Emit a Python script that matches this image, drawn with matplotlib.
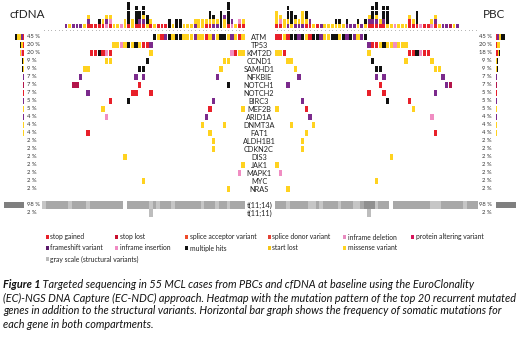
import matplotlib.pyplot as plt

plt.rcParams["font.family"] = ["Lato", "DejaVu Sans"]

# =============================================================================
# Data
# =============================================================================
GENES = ["ATM", "TP53", "KMT2D", "CCND1", "SAMHD1", "NFKBIE", "NOTCH1", "NOTCH2",
         "BIRC3", "MEF2B", "ARID1A", "DNMT3A", "FAT1", "ALDH1B1", "CDKN2C", "DIS3",
         "JAK1", "MAPK1", "MYC", "NRAS"]
SV_LABELS = ["t(11;14)", "t(11;11)"]
N_CASES = 55

# cell codes: Y missense, R stop gained, P frameshift, K multiple hits,
# I inframe indel, C protein altering ; "start:codes" runs per gene
CFDNA_MUT = [
    "30:KYRPKYKKYYYPYYRYPYKKYPYRY",
    "19:YYIYKYKYRRP",
    "13:RRKRIR 29:Y 51:IRYY",
    "17:YY 28:K 49:YY",
    "11:YY 26:KK 48:Y",
    "10:P 25:P 27:P 47:P",
    "8:CC 26:R 50:K",
    "12:P 24:RR 29:R",
    "18:R 23:K 46:P",
    "16:Y 45:R 54:Y",
    "17:I 44:P",
    "43:Y 49:Y",
    "12:R 45:Y",
    "46:Y",
    "46:Y",
    "22:Y",
    "54:Y",
    "53:I",
    "27:Y",
    "50:Y",
]
PBC_MUT = [
    "0:RRYRKKPKYRKKPYYKKYKPKPYPK",
    "25:PRRYKYYIYYY",
    "0:YYR 25:Y 36:RRKIRR",
    "3:YY 26:K 35:Y 42:Y",
    "5:Y 27:KK 43:YY",
    "6:P 27:P 29:P 45:P",
    "3:P 28:R 46:PC",
    "25:R 29:R 43:P",
    "7:P 30:K 36:R",
    "0:Y 8:R 37:Y",
    "9:P 42:I",
    "4:Y 10:Y",
    "8:Y 43:R",
    "7:Y",
    "7:Y",
    "31:Y",
    "0:Y",
    "1:I",
    "27:Y",
    "3:Y",
]

# mutations per case (stacked, bottom to top)
CFDNA_TOP = ["", "", "", "", "", "", "P", "Y", "P", "P", "P", "Y", "RPY", "R", "R",
             "RK", "RY", "IPY", "RIY", "Y", "Y", "I", "YY", "RKKKKK", "YY", "RKKKK",
             "RPKK", "RPYKK", "YKK", "RY", "Y", "R", "R", "R", "KK", "Y", "KK", "KK",
             "Y", "Y", "Y", "PY", "YY", "YY", "RY", "RYKK", "PYK", "PY", "KKKK",
             "YYP", "RKKKKK", "IP", "Y", "RI", "RY"]
PBC_TOP = ["RYYY", "RIY", "YY", "PYKKK", "YKKK", "PYK", "PY", "PYYY", "RYKK", "RP",
           "Y", "R", "P", "Y", "Y", "Y", "YK", "YK", "Y", "PK", "P", "P", "YK", "P",
           "YK", "RPY", "RPKKK", "RPYKKK", "RY", "RPKKK", "YKKKK", "Y", "I", "Y", "Y",
           "Y", "RRY", "RY", "RKKK", "I", "R", "R", "IY", "RPY", "Y", "P", "P", "C",
           "Y", "P", "", "", "", "", ""]

# structural variants: gray level per case for t(11;14) ('-' = absent)
CFDNA_T1114 = "lmmmmmmlmmmmlmmmmmmmmm-mmmmmmlmlmmmlmmmmmmmlmmmlmmlmmmm"
PBC_T1114 = "mmmlmmmmmllmlmmmmlmmmllmdddlmmm-mmmmmmmmmmlllmmmmmmlmmm"
CFDNA_T1111 = [29]
PBC_T1111 = [25]

COLORS = {"Y": "#FFD21F", "R": "#E8202A", "P": "#7B2A8C", "K": "#111111",
          "I": "#F08DC2", "C": "#B3154A"}
GRAYS = {"l": "#C6C6C6", "m": "#A8A8A8", "d": "#909090"}
STACK_ORDER = ["R", "C", "I", "P", "Y", "K"]

LEGEND = [
    [("stop gained", "#E8202A"), ("stop lost", "#C8102E"),
     ("splice acceptor variant", "#EE4B2B"), ("splice donor variant", "#E34234"),
     ("inframe deletion", "#E88BC0"), ("protein altering variant", "#D8145A")],
    [("frameshift variant", "#5B1A6B"), ("inframe insertion", "#F08BC3"),
     ("multiple hits", "#111111"), ("start lost", "#F5C518"),
     ("missense variant", "#FFD320")],
    [("gray scale (structural variants)", "#BBBBBB")],
]

CAPTION = [
    "Targeted sequencing in 55 MCL cases from PBCs and cfDNA at baseline using the EuroClonality",
    "(EC)-NGS DNA Capture (EC-NDC) approach. Heatmap with the mutation pattern of the top 20 recurrent mutated",
    "genes in addition to the structural variants. Horizontal bar graph shows the frequency of somatic mutations for",
    "each gene in both compartments.",
]

# =============================================================================
# Layout helpers
# =============================================================================
W, H = 520, 338
fig = plt.figure(figsize=(W / 100, H / 100), dpi=100)


def px_axes(x0, y0, x1, y1):
    ax = fig.add_axes([x0 / W, 1 - y1 / H, (x1 - x0) / W, (y1 - y0) / H])
    ax.set_axis_off()
    ax.patch.set_alpha(0)
    return ax


def parse_runs(spec):
    cells = []
    for run in spec.split():
        start, codes = run.split(":")
        for k, code in enumerate(codes):
            cells.append((int(start) + k, code))
    return cells


ROW0, ROW_H = 33, 8
N_ROWS = 23  # 20 genes, blank, 2 SV rows


def row_y(i):
    return ROW0 + ROW_H * (i + 0.5)


def draw_panel(x0, x1, muts, top, t1114, t1111, side_x0, side_x1, side_dir):
    ax = px_axes(x0, ROW0, x1, ROW0 + ROW_H * N_ROWS)
    ax.set_xlim(0, N_CASES)
    ax.set_ylim(N_ROWS, 0)
    counts = []
    for r, spec in enumerate(muts):
        cells = parse_runs(spec)
        for c, code in cells:
            ax.bar(c + 0.5, 0.86, width=0.9, bottom=r + 0.07,
                   color=COLORS[code], linewidth=0)
        counts.append([code for _, code in cells])
    # structural variants
    sv_counts = [0, 0]
    for c, g in enumerate(t1114):
        if g in GRAYS:
            ax.bar(c + 0.5, 0.9, width=1.0, bottom=21.05, color=GRAYS[g], linewidth=0)
            sv_counts[0] += 1
    for c in t1111:
        ax.bar(c + 0.5, 0.9, width=0.9, bottom=22.05, color="#BDBDBD", linewidth=0)
        sv_counts[1] += 1

    # top bar plot
    axt = px_axes(x0, 0, x1, 28)
    axt.set_xlim(0, N_CASES)
    axt.set_ylim(0, 6.3)
    for c, stack in enumerate(top):
        for k, code in enumerate(stack):
            axt.bar(c + 0.5, 0.92, width=0.75, bottom=k, color=COLORS[code], linewidth=0)
    axt.scatter([c + 0.5 for c in range(N_CASES)], [-0.35] * N_CASES, s=0.25,
                color="#8A8A8A", clip_on=False, linewidths=0)

    # side frequency bars
    axs = px_axes(side_x0, ROW0, side_x1, ROW0 + ROW_H * N_ROWS)
    axs.set_ylim(N_ROWS, 0)
    if side_dir < 0:
        axs.set_xlim(120, 0)
    else:
        axs.set_xlim(0, 120)
    pcts = []
    for r, codes in enumerate(counts):
        left = 0.0
        for code in STACK_ORDER:
            n = codes.count(code)
            if n:
                w = 100.0 * n / N_CASES
                axs.barh(r + 0.5, w, height=0.8, left=left, color=COLORS[code], linewidth=0)
                left += w
        pcts.append(int(round(100.0 * len(codes) / N_CASES)))
    for k, (n, col) in enumerate(zip(sv_counts, ["#7F7F7F", "#A0A0A0"])):
        w = 100.0 * n / N_CASES
        axs.barh(21.5 + k, w, height=0.85, color=col, linewidth=0)
    sv_pcts = [int(round(100.0 * n / N_CASES)) for n in sv_counts]
    return pcts, sv_pcts


cf_pcts, cf_sv = draw_panel(42, 245, CFDNA_MUT, CFDNA_TOP, CFDNA_T1114, CFDNA_T1111, 0, 24, -1)
pb_pcts, pb_sv = draw_panel(275, 478, PBC_MUT, PBC_TOP, PBC_T1114, PBC_T1111, 496, 520, 1)

# =============================================================================
# Text overlay (pixel coordinates)
# =============================================================================
axo = px_axes(0, 0, W, H)
axo.set_xlim(0, W)
axo.set_ylim(H, 0)

axo.text(10, 14, "cfDNA", fontsize=8.4, ha="left", va="center", color="#222222")
axo.text(483, 14, "PBC", fontsize=8.4, ha="left", va="center", color="#222222")

for i, g in enumerate(GENES):
    axo.text(259, row_y(i), g, fontsize=5.3, ha="center", va="center", color="#222222")
for k, s in enumerate(SV_LABELS):
    axo.text(260, row_y(21 + k), s, fontsize=5.3, ha="center", va="center", color="#222222")

for i, p in enumerate(cf_pcts):
    axo.text(27, row_y(i), f"{p} %", fontsize=4.2, ha="left", va="center", color="#333333")
for i, p in enumerate(pb_pcts):
    axo.text(492, row_y(i), f"{p} %", fontsize=4.2, ha="right", va="center", color="#333333")
for k in range(2):
    axo.text(27, row_y(21 + k), f"{cf_sv[k]} %", fontsize=4.2, ha="left", va="center", color="#333333")
    axo.text(492, row_y(21 + k), f"{pb_sv[k]} %", fontsize=4.2, ha="right", va="center", color="#333333")

# legend
LEG_X = [46, 115, 185, 268, 343, 411]
LEG_Y = [237, 248, 259]
for r, entries in enumerate(LEGEND):
    for c, (label, col) in enumerate(entries):
        axo.bar(LEG_X[c] + 1.5, 3.2, width=3.2, bottom=LEG_Y[r] - 1.6, color=col, linewidth=0)
        axo.text(LEG_X[c] + 4.5, LEG_Y[r], label, fontsize=4.9, ha="left", va="center",
                 color="#222222")

# caption
CAP_FS = 7.8
CAP_Y = [285, 298, 311, 324]
t0 = axo.text(3, CAP_Y[0], "Figure 1", fontsize=CAP_FS, style="italic", fontweight="bold",
              ha="left", va="center", color="#111111")
axo.annotate(" " + CAPTION[0], xy=(1, 0.5), xycoords=t0, fontsize=CAP_FS, style="italic",
             ha="left", va="center", color="#111111")
for k in range(1, 4):
    axo.text(3, CAP_Y[k], CAPTION[k], fontsize=CAP_FS, style="italic", ha="left", va="center",
             color="#111111")

fig.savefig("out.png", dpi=100)
